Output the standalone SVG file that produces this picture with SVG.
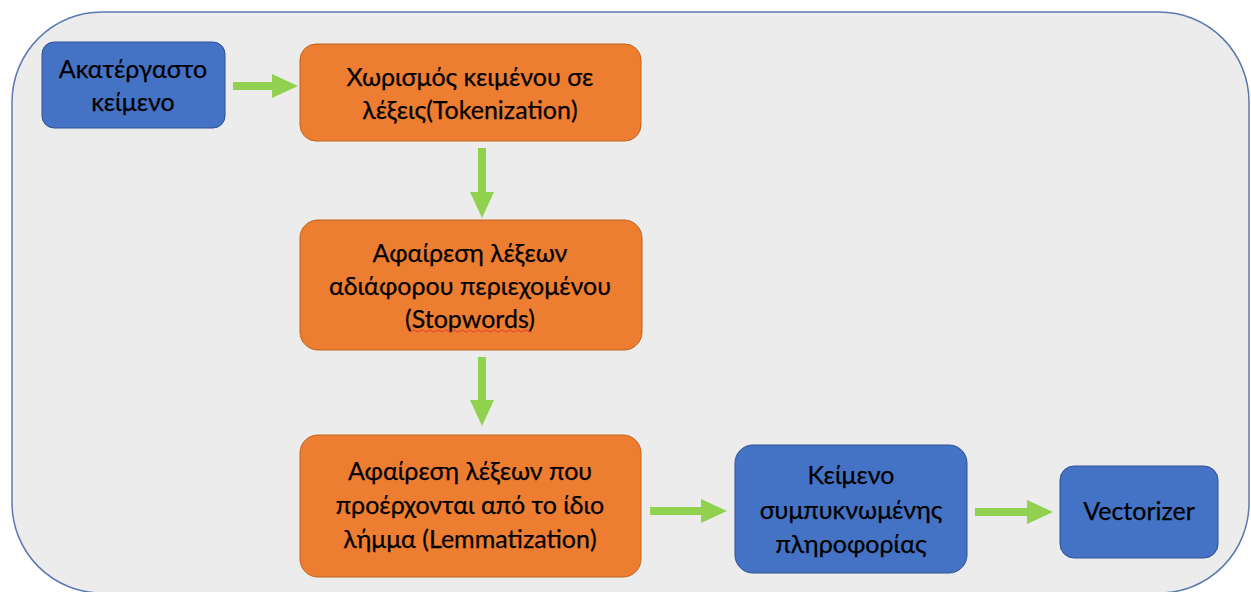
<svg xmlns="http://www.w3.org/2000/svg" width="1251" height="592" viewBox="0 0 1251 592">
<style>
.bg{fill:#ececec;stroke:#5b79b1;stroke-width:1.5}
.blue{fill:#4472c4;stroke:#2f528f;stroke-width:1}
.orange{fill:#ed7d31;stroke:#c0621f;stroke-width:1}
.t{font-family:Lato,"Noto Sans",sans-serif;font-size:25px;fill:#000;stroke:#000;stroke-width:0.25;text-anchor:middle}
.arr{fill:#92d050}
</style>
<rect class="bg" x="12" y="12" width="1237" height="581" rx="90" ry="90"/>
<g id="connectors">
<polygon class="arr" points="233,82 272,82 272,74 298,86 272,98 272,90 233,90"/>
<polygon class="arr" points="478,148 486,148 486,192 494,192 482,218 470,192 478,192"/>
<polygon class="arr" points="478,357 486,357 486,400 494,400 482,426 470,400 478,400"/>
<polygon class="arr" points="650,507 701,507 701,499 727,511 701,523 701,515 650,515"/>
<polygon class="arr" points="975,508 1027,508 1027,500 1053,512 1027,524 1027,516 975,516"/>
</g>
<g id="n1">
<rect class="blue" x="42" y="42" width="183" height="86" rx="12"/>
<text class="t" x="133" y="78">Ακατέργαστο</text>
<text class="t" x="133" y="111">κείμενο</text>
</g>
<g id="n2">
<rect class="orange" x="300" y="44" width="341" height="97" rx="16"/>
<text class="t" x="470" y="86">Χωρισμός κειμένου σε</text>
<text class="t" x="470" y="119">λέξεις(Tokenization)</text>
</g>
<g id="n3">
<rect class="orange" x="300" y="220" width="342" height="130" rx="18"/>
<text class="t" x="470" y="262">Αφαίρεση λέξεων</text>
<text class="t" x="470" y="295">αδιάφορου περιεχομένου</text>
<text class="t" x="470" y="328">(Stopwords)</text>
<path d="M412,331 q2,-2 4,0 t4,0 t4,0 t4,0 t4,0 t4,0 t4,0 t4,0 t4,0 t4,0 t4,0 t4,0 t4,0 t4,0 t4,0 t4,0 t4,0 t4,0 t4,0 t4,0 t4,0 t4,0 t4,0 t4,0 t4,0 t4,0 t4,0 t4,0 t4,0 t4,0" fill="none" stroke="#e03030" stroke-width="0.8"/>
</g>
<g id="n4">
<rect class="orange" x="300" y="435" width="341" height="142" rx="18"/>
<text class="t" x="470" y="480">Αφαίρεση λέξεων που</text>
<text class="t" x="470" y="514">προέρχονται από το ίδιο</text>
<text class="t" x="470" y="548">λήμμα (Lemmatization)</text>
</g>
<g id="n5">
<rect class="blue" x="735" y="445" width="232" height="128" rx="18"/>
<text class="t" x="851" y="484">Κείμενο</text>
<text class="t" x="851" y="519">συμπυκνωμένης</text>
<text class="t" x="851" y="553">πληροφορίας</text>
</g>
<g id="n6">
<rect class="blue" x="1060" y="466" width="158" height="92" rx="14"/>
<text class="t" x="1139" y="520">Vectorizer</text>
</g>
</svg>
